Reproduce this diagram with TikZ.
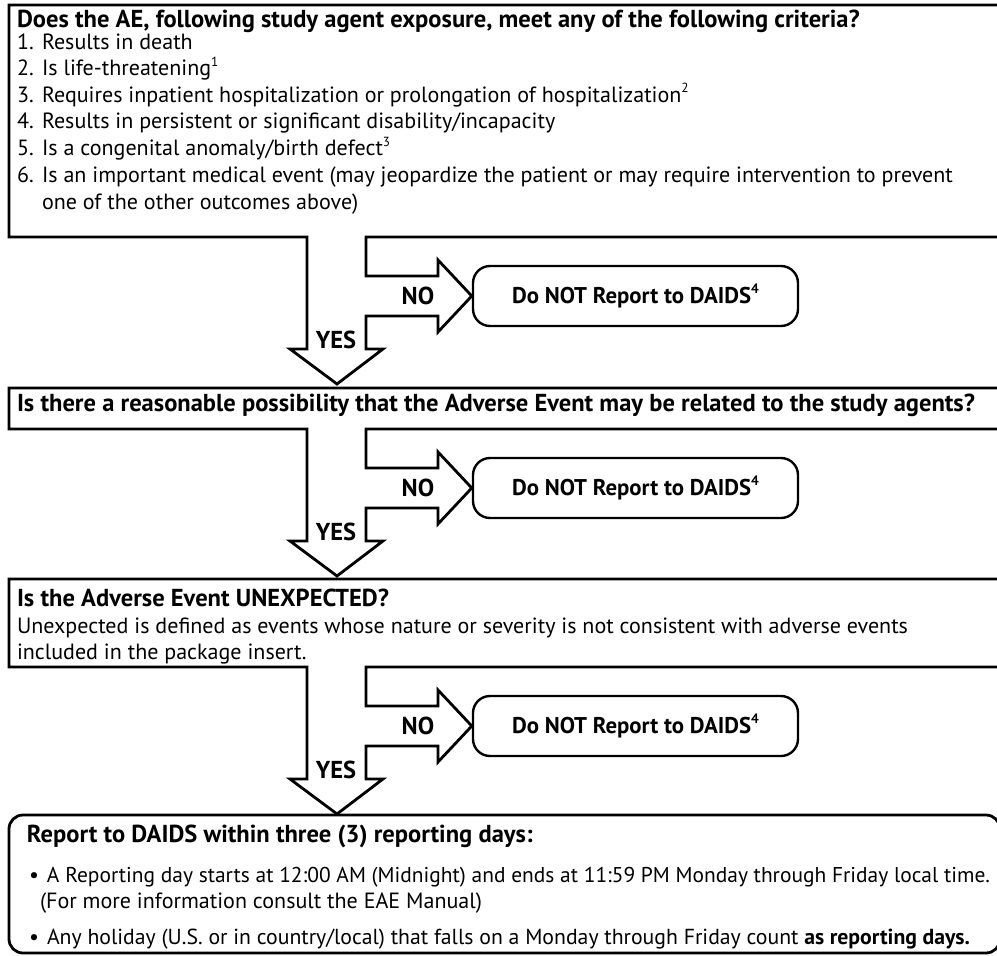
\documentclass[tikz,border=0pt]{standalone}
\usepackage{fontspec}
\setmainfont{PT Sans}
\newlength\calA
\newlength\calB
\newlength\calC
\newcommand\fB{\fontsize{\bsz pt}{\bsz pt}\selectfont\bfseries}
\newcommand\fR{\fontsize{\rsz pt}{\rsz pt}\selectfont}
\newcommand\fN{\fontsize{\nsz pt}{\nsz pt}\selectfont\bfseries}
\newcommand\fL{\fontsize{24.5pt}{24.5pt}\selectfont\bfseries}
\newcommand\sups[1]{\raisebox{0.42em}{\scalebox{0.6}{#1}}}
\newcommand\fitw[2]{\resizebox{#1pt}{!}{#2}}
\newcommand\flow[3]{%
  \node[notbox] (not#3) at (635.5,#2+59) {Do NOT Report to DAIDS\sups{4}};
  \coordinate (tip#3) at (337,#2+147);
  \draw[outline] (307,#2) -- (9,#2) -- (9,#1) -- (1012,#1) -- (1012,#2) -- (366,#2)
     -- (366,#2+39) -- (438,#2+39) -- (438,#2+23) -- (not#3.west) -- (438,#2+95)
     -- (438,#2+79) -- (366,#2+79) -- (366,#2+112) -- (383,#2+112) -- (tip#3)
     -- (290,#2+112) -- (307,#2+112) -- cycle;
  \node[lbl] (no#3) at (418,#2+59) {NO};
  \node[lbl] (yes#3) at (336,#2+103) {YES};
}
\begin{document}
\settowidth\calA{\fontsize{10pt}{12pt}\selectfont\bfseries Is there a reasonable possibility that the Adverse Event may be related to the study agents?}
\settowidth\calB{\fontsize{10pt}{12pt}\selectfont Unexpected is defined as events whose nature or severity is not consistent with adverse events}
\settowidth\calC{\fontsize{10pt}{12pt}\selectfont\bfseries Do NOT Report to DAIDS}
\pgfmathsetmacro\bsz{10*958/\calA}
\pgfmathsetmacro\rsz{10*891/\calB}
\pgfmathsetmacro\nsz{10*239/\calC}
\begin{tikzpicture}[x=1pt,y=-1pt,line join=miter,
  outline/.style={draw=black,line width=2.8pt},
  notbox/.style={draw=black,line width=2.4pt,rounded corners=17pt,minimum width=325pt,minimum height=60pt,inner sep=0pt,font=\fN},
  tx/.style={anchor=base west,inner sep=0pt,outer sep=0pt},
  lbl/.style={inner sep=0pt,outer sep=0pt,font=\fL}]
\useasboundingbox (0,0) rectangle (997,956);
\clip (0,0) rectangle (997,956);
\flow{5}{237}{1}
\flow{388}{429}{2}
\flow{579}{667}{3}
\draw[outline,rounded corners=14pt] (9,815) rectangle (1000,953);
% box 1
\node[tx,font=\fB] (q1) at (17,27) {Does the AE, following study agent exposure, meet any of the following criteria?};
\node[tx,font=\fR] (n1) at (17,49.5) {1.};
\node[tx,font=\fR] (i1) at (42,49.5) {Results in death};
\node[tx,font=\fR] (n2) at (17,75.5) {2.};
\node[tx,font=\fR] (i2) at (42,75.5) {Is life-threatening\sups{1}};
\node[tx,font=\fR] (n3) at (17,102) {3.};
\node[tx,font=\fR] (i3) at (42,102) {Requires inpatient hospitalization or prolongation of hospitalization\sups{2}};
\node[tx,font=\fR] (n4) at (17,128.5) {4.};
\node[tx,font=\fR] (i4) at (42,128.5) {Results in persistent or significant disability/incapacity};
\node[tx,font=\fR] (n5) at (17,155.3) {5.};
\node[tx,font=\fR] (i5) at (42,155.3) {Is a congenital anomaly/birth defect\sups{3}};
\node[tx,font=\fR] (n6) at (17,182.2) {6.};
\node[tx,font=\fR] (i6) at (42,182.2) {Is an important medical event (may jeopardize the patient or may require intervention to prevent};
\node[tx,font=\fR] (i6b) at (42,209) {one of the other outcomes above)};
% box 2
\node[tx,font=\fB] (q2) at (17,411) {Is there a reasonable possibility that the Adverse Event may be related to the study agents?};
% box 3
\node[tx,font=\fB] (q3) at (17,606) {Is the Adverse Event UNEXPECTED?};
\node[tx,font=\fR] (q3a) at (17,633) {Unexpected is defined as events whose nature or severity is not consistent with adverse events};
\node[tx,font=\fR] (q3b) at (17,659) {included in the package insert.};
% bottom
\node[tx,font=\fB] (r0) at (27,842) {Report to DAIDS within three (3) reporting days:};
\node[tx,font=\fR] (b1) at (29,882) {•};
\node[tx,font=\fR] (r1) at (47,882) {\fitw{943}{A Reporting day starts at 12:00 AM (Midnight) and ends at 11:59 PM Monday through Friday local time.}};
\node[tx,font=\fR] (r2) at (40,908) {(For more information consult the EAE Manual)};
\node[tx,font=\fR] (b2) at (29,944) {•};
\node[tx,font=\fR] (r3) at (47,944) {\fitw{923}{Any holiday (U.S. or in country/local) that falls on a Monday through Friday count \textbf{as reporting days.}}};
\end{tikzpicture}
\end{document}
